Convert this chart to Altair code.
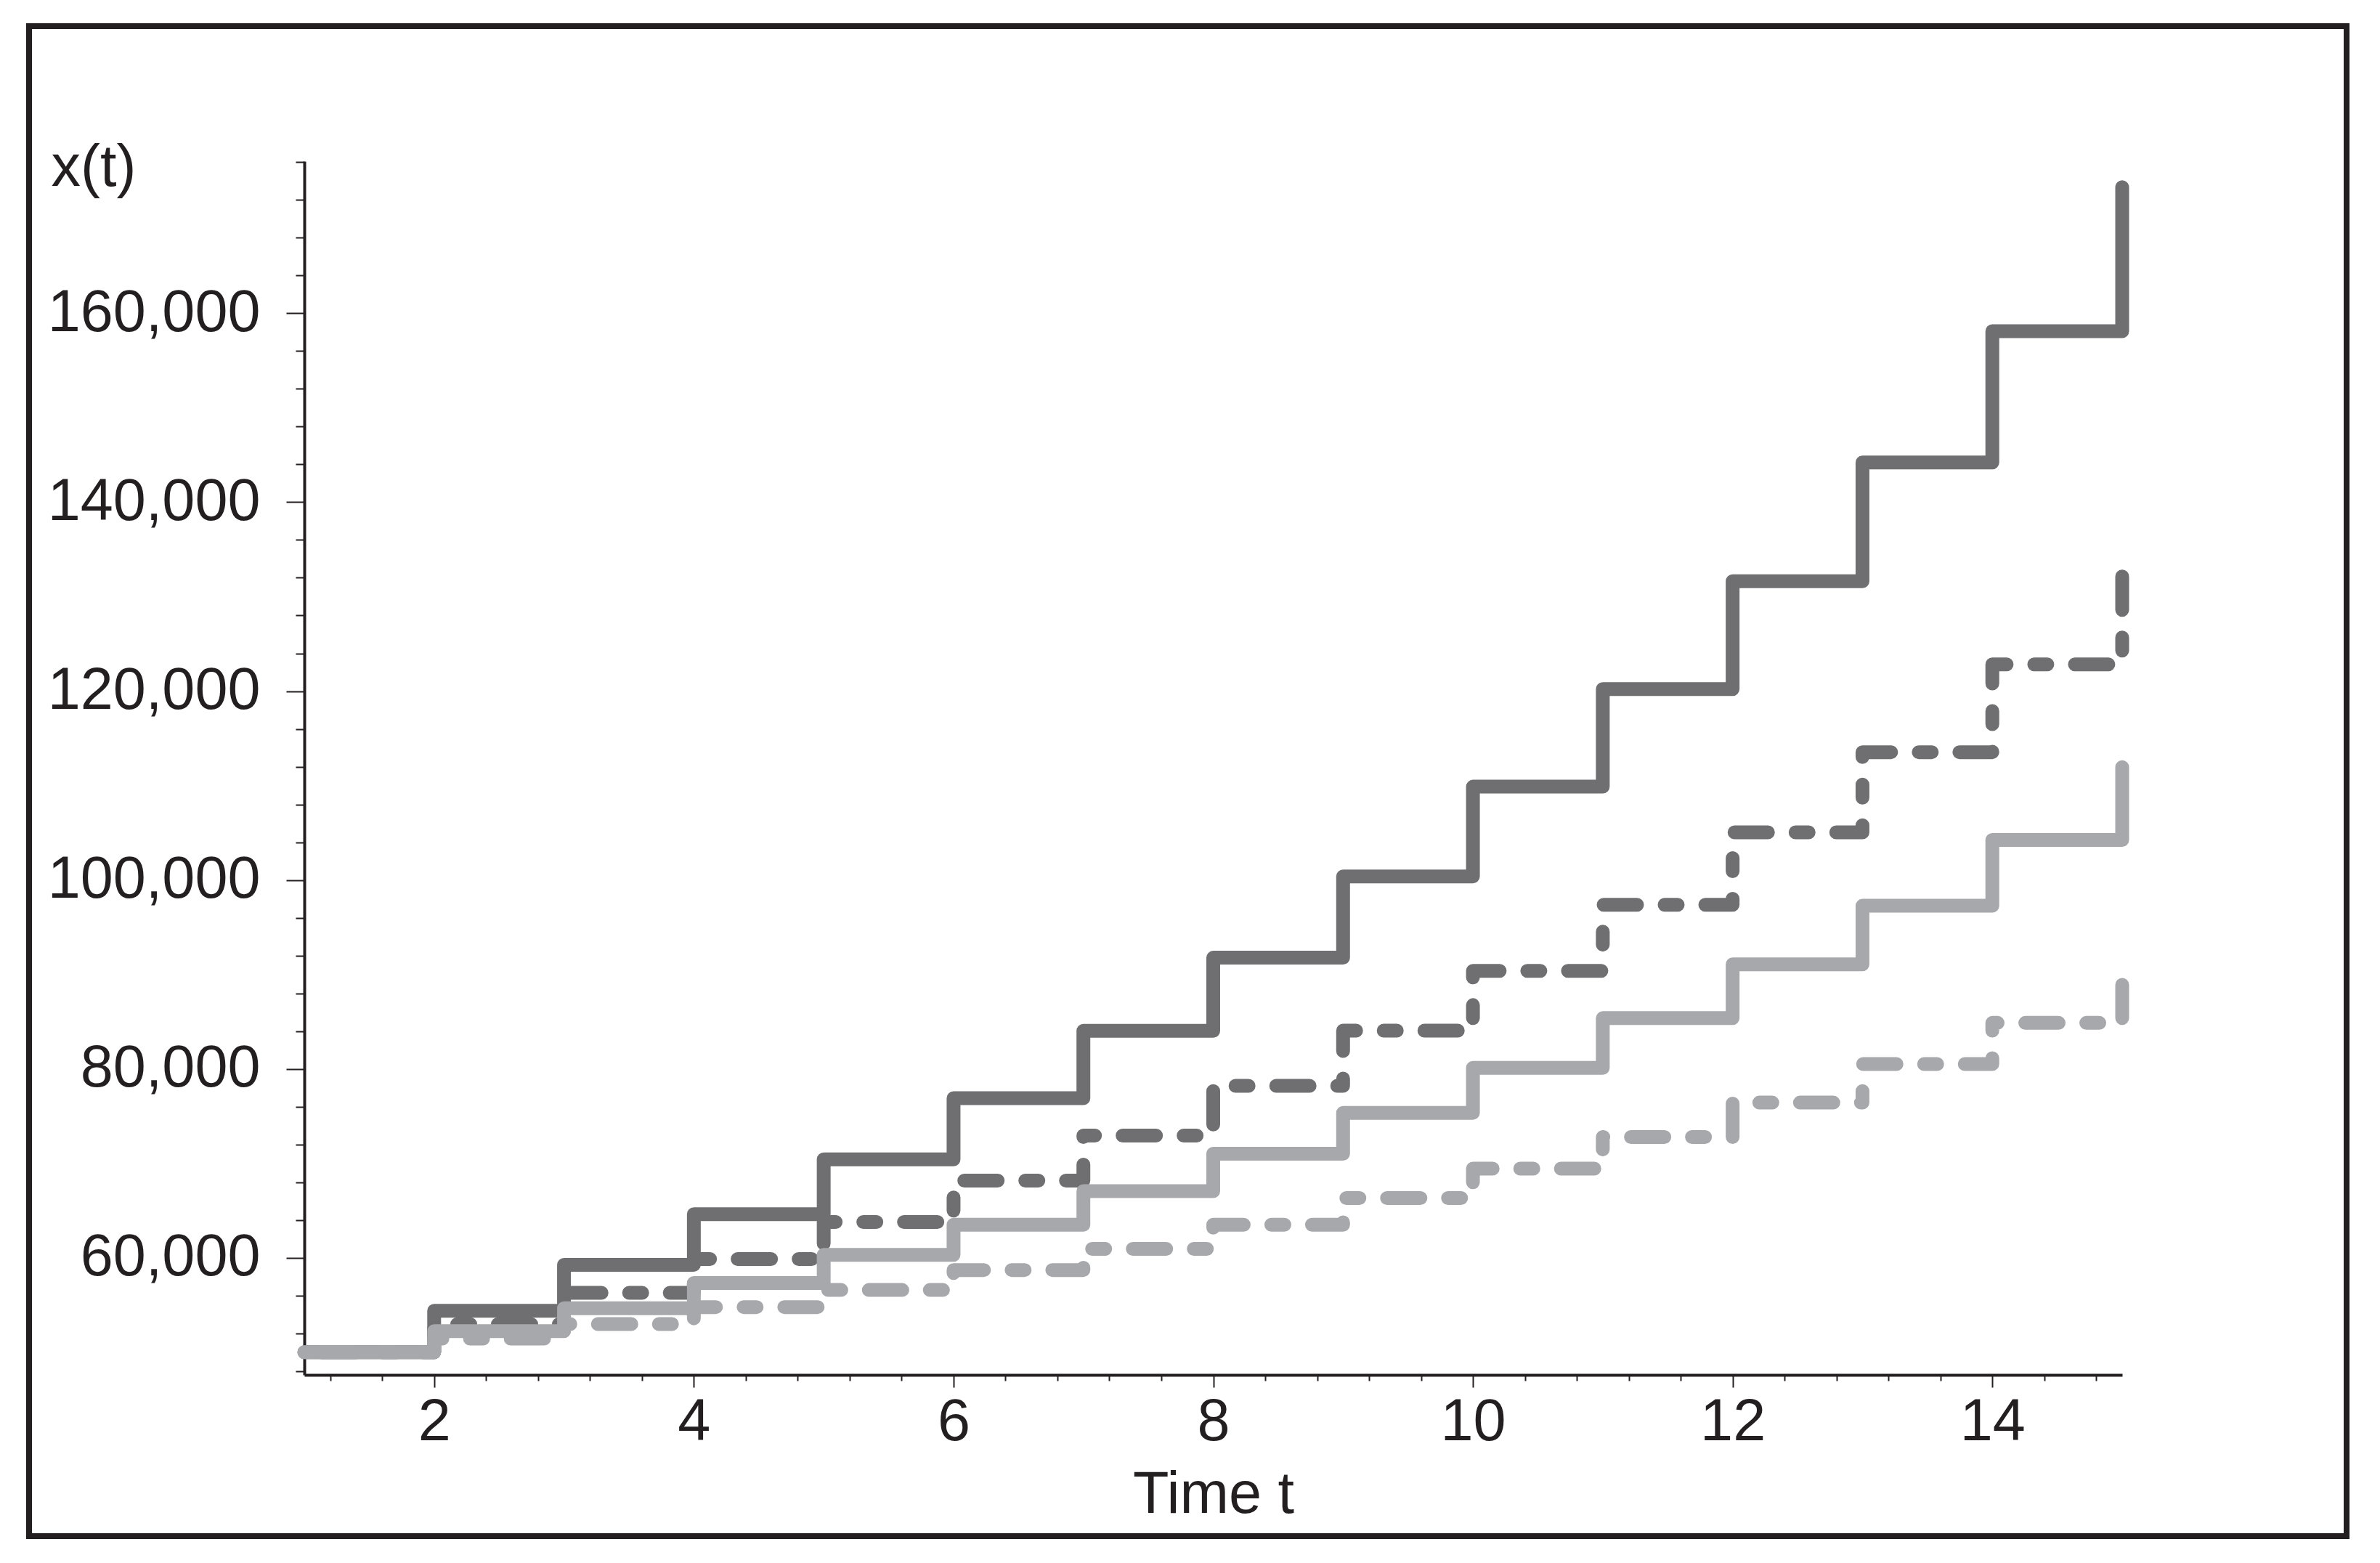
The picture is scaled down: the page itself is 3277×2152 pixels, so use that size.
import altair as alt
import pandas as pd

# ---- data ----
t = list(range(1, 16))
dark_solid = [50000, 54390, 59260, 64610, 70420, 76900, 84030, 91770,
              100380, 109880, 120210, 131630, 144200, 158110, 173360]
dark_dashed = [50000, 52960, 56290, 59870, 63790, 68170, 72940, 78210,
               84050, 90380, 97370, 105040, 113530, 122830, 132130]
light_solid = [50000, 52240, 54650, 57330, 60310, 63500, 67060, 71010,
               75350, 80110, 85370, 91070, 97270, 104230, 111940]
light_dashed = [50000, 51450, 52980, 54780, 56590, 58700, 60940, 63500,
                66320, 69440, 72790, 76430, 80510, 84870, 88890]

series_names = ["dark solid", "dark dashed", "light solid", "light dashed"]
series_values = [dark_solid, dark_dashed, light_solid, light_dashed]

x_ticks = [round(1.2 + 0.4 * i, 1) for i in range(35)]      # 1.2 ... 14.8
y_ticks = [48000 + 4000 * i for i in range(33)]              # 48,000 ... 176,000

rows = []
for name, vals in zip(series_names, series_values):
    for ti, v in zip(t, vals):
        rows.append({"series": name, "t": ti, "x": v})
df = pd.DataFrame(rows)

INK = "#231f20"
DARK = "#6f6f72"
LIGHT = "#a7a8ab"
FONT = "Liberation Sans Narrow, Liberation Sans, Arial, sans-serif"
FS = 81
DASH = [46, 38, 18, 38]

x_enc = alt.X(
    "t:Q",
    scale=alt.Scale(domain=[1, 15], nice=False, zero=False),
    axis=alt.Axis(
        values=x_ticks,
        title="Time t",
        labelExpr="datum.value % 2 === 0 ? format(datum.value, 'd') : ''",
        tickSize={"condition": {"test": "datum.value % 2 === 0", "value": 17}, "value": 8},
        labelPadding=8,
        titlePadding=20,
        labelOverlap=False,
        labelFlush=False,
        labelLimit=0,
    ),
)
y_enc = alt.Y(
    "x:Q",
    scale=alt.Scale(domain=[47600, 176100], nice=False, zero=False),
    axis=alt.Axis(
        values=y_ticks,
        title="x(t)",
        titleAngle=0,
        titleAlign="left",
        titleBaseline="alphabetic",
        titleX=-349,
        titleY=33,
        labelExpr="datum.value % 20000 === 0 ? format(datum.value, ',d') : ''",
        tickSize={"condition": {"test": "datum.value % 20000 === 0", "value": 25}, "value": 12},
        labelPadding=36,
        labelOverlap=False,
        labelFlush=False,
        labelLimit=0,
    ),
)

base = alt.Chart(df).encode(x=x_enc, y=y_enc)

styles = [
    ("dark solid", DARK, None, 0),
    ("dark dashed", DARK, DASH, 115),
    ("light solid", LIGHT, None, 0),
    ("light dashed", LIGHT, DASH, 117),
]
layers = []
for name, color, dash, offset in styles:
    kw = dict(interpolate="step-after", color=color, strokeWidth=19,
              strokeCap="round", strokeJoin="round")
    if dash:
        kw["strokeDash"] = dash
        kw["strokeDashOffset"] = offset
    layers.append(base.transform_filter(alt.datum.series == name).mark_line(**kw))

frame = alt.Chart(alt.Data(values=[{"frame": 1}])).mark_rect(
    fillOpacity=0, stroke=INK, strokeWidth=8, clip=False
).encode(
    x=alt.value(-379), x2=alt.value(2812), y=alt.value(-186), y2=alt.value(1893)
)

chart = alt.layer(frame, *layers).properties(
    width=2503,
    height=1671,
    padding={"left": 411, "top": 214, "right": 347, "bottom": 251},
    autosize=alt.AutoSizeParams(type="none"),
    background="white",
).configure_view(stroke=None).configure_axis(
    grid=False,
    domainColor=INK,
    domainWidth=4,
    tickColor=INK,
    tickWidth=2,
    labelFont=FONT,
    labelFontSize=FS,
    labelColor=INK,
    titleFont=FONT,
    titleFontSize=FS,
    titleFontWeight="normal",
    titleColor=INK,
)

chart.save("out.html", embed_options={"renderer": "svg", "actions": False})
